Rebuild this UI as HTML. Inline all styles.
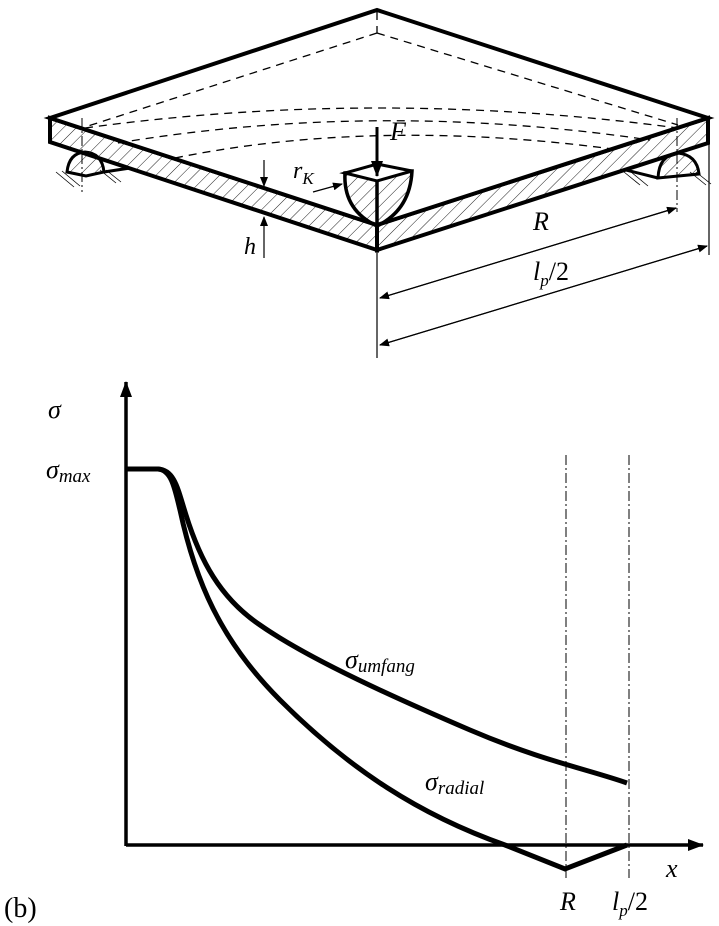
<!DOCTYPE html>
<html><head><meta charset="utf-8"><style>
html,body{margin:0;padding:0;background:#fff;}
svg{display:block;}
text{font-family:"Liberation Serif",serif;font-style:italic;fill:#000;}
.n{font-style:normal;}
</style></head><body>
<svg width="719" height="926" viewBox="0 0 719 926" xmlns="http://www.w3.org/2000/svg">
<defs>
<pattern id="h" patternUnits="userSpaceOnUse" width="9" height="9" patternTransform="rotate(45)">
<line x1="0" y1="0" x2="0" y2="9" stroke="#222" stroke-width="1"/>
</pattern>
<marker id="a" markerWidth="10" markerHeight="8" refX="9" refY="4" orient="auto" markerUnits="userSpaceOnUse">
<path d="M0,0 L10,4 L0,8 Z" fill="#000"/>
</marker>
<marker id="ab" markerWidth="16" markerHeight="12" refX="15" refY="6" orient="auto" markerUnits="userSpaceOnUse">
<path d="M0,0 L16,6 L0,12 Z" fill="#000"/>
</marker>
</defs>
<g stroke="#000" stroke-width="0.8">
<line x1="56" y1="172" x2="74" y2="187"/><line x1="62" y1="171" x2="80" y2="186"/><line x1="100" y1="170" x2="116" y2="183"/><line x1="106" y1="170" x2="121" y2="182"/>
<line x1="624" y1="172" x2="640" y2="185"/><line x1="631" y1="172" x2="648" y2="186"/><line x1="690" y1="172" x2="706" y2="185"/><line x1="696" y1="172" x2="711" y2="184"/>
</g>
<path d="M67,172 Q69,153 85,152 Q102,153 104,172 L86,176 Z" fill="url(#h)" stroke="#000" stroke-width="3"/>
<path d="M104,172 L130,168" stroke="#000" stroke-width="3"/>
<path d="M658,178 Q659,155 678,153 Q697,155 699,174 Z" fill="url(#h)" stroke="#000" stroke-width="3"/>
<path d="M626,170 L658,178" stroke="#000" stroke-width="3"/>
<path d="M50,118 L377,225 L377,250 L50,142 Z" fill="url(#h)" stroke="#000" stroke-width="4"/>
<path d="M377,225 L708,118 L708,143 L377,250 Z" fill="url(#h)" stroke="#000" stroke-width="4"/>
<path d="M50,118 L377,10 L708,118 L377,225 Z" fill="#fff" stroke="#000" stroke-width="4"/>
<g stroke="#000" stroke-width="1.3" fill="none" stroke-dasharray="8,6">
<path d="M377,12 L377,33"/>
<path d="M377,33 L85,127"/>
<path d="M377,33 L678,125"/>
<path d="M85,128 Q377,88 678,128"/>
<path d="M118,143 Q377,100 650,140"/>
<path d="M175,158 Q377,117 620,150"/>
</g>
<g stroke="#000" stroke-width="1" stroke-dasharray="10,3,2,3">
<line x1="82" y1="118" x2="82" y2="192"/>
<line x1="677" y1="118" x2="677" y2="212"/>
</g>
<path d="M345,173 Q343,210 377,226 Q410,210 412,171 Z" fill="url(#h)" stroke="#000" stroke-width="3.5"/>
<path d="M345,173 L377,181 L412,171 L377,164 Z" fill="#fff" stroke="#000" stroke-width="3"/>
<line x1="377" y1="181" x2="377" y2="250" stroke="#000" stroke-width="3.5"/>
<line x1="377" y1="127" x2="377" y2="176" stroke="#000" stroke-width="3" marker-end="url(#ab)"/>
<text x="390" y="140" font-size="26">F</text>
<text x="293" y="178" font-size="24">r<tspan font-size="17" dy="6">K</tspan></text>
<line x1="313" y1="192" x2="342" y2="184" stroke="#000" stroke-width="1.2" marker-end="url(#a)"/>
<line x1="264" y1="160" x2="264" y2="186" stroke="#000" stroke-width="1.2" marker-end="url(#a)"/>
<line x1="264" y1="258" x2="264" y2="217" stroke="#000" stroke-width="1.2" marker-end="url(#a)"/>
<text x="244" y="254" font-size="24">h</text>
<g stroke="#000" stroke-width="1.2">
<line x1="377" y1="250" x2="377" y2="358"/>
<line x1="709" y1="143" x2="709" y2="255"/>
<line x1="380" y1="345" x2="707" y2="246" marker-end="url(#a)"/>
<line x1="707" y1="246" x2="380" y2="345" marker-end="url(#a)"/>
<line x1="380" y1="298" x2="676" y2="208" marker-end="url(#a)"/>
<line x1="676" y1="208" x2="380" y2="298" marker-end="url(#a)"/>
</g>
<text x="533" y="230" font-size="26">R</text>
<text x="533" y="280" font-size="26">l<tspan font-size="17" dy="6">p</tspan><tspan dy="-6" class="n">/2</tspan></text>
<line x1="126" y1="846" x2="126" y2="382" stroke="#000" stroke-width="3.5" marker-end="url(#ab)"/>
<line x1="126" y1="845" x2="703" y2="845" stroke="#000" stroke-width="3.5" marker-end="url(#ab)"/>
<g stroke="#000" stroke-width="1" stroke-dasharray="10,3,2,3">
<line x1="566" y1="455" x2="566" y2="878"/>
<line x1="629" y1="455" x2="629" y2="878"/>
</g>
<path d="M126,469 L158,469 C175,470 178,490 186,515 C200,560 220,598 260,625 C310,660 400,700 470,730 C540,760 590,770 627,783" fill="none" stroke="#000" stroke-width="5"/>
<path d="M126,469 L158,469 C172,470 175,490 180,510 C195,580 220,640 280,700 C350,770 420,815 505,845 L565,869 L627,845" fill="none" stroke="#000" stroke-width="5"/>
<text x="48" y="418" font-size="26">σ</text>
<text x="46" y="478" font-size="26">σ<tspan font-size="19" dy="4">max</tspan></text>
<text x="345" y="668" font-size="26">σ<tspan font-size="19" dy="4">umfang</tspan></text>
<text x="425" y="790" font-size="26">σ<tspan font-size="19" dy="4">radial</tspan></text>
<text x="666" y="877" font-size="26">x</text>
<text x="560" y="910" font-size="26">R</text>
<text x="612" y="910" font-size="26">l<tspan font-size="17" dy="6">p</tspan><tspan dy="-6" class="n">/2</tspan></text>
<text x="4" y="917" font-size="28" class="n">(b)</text>
</svg>
</body></html>
